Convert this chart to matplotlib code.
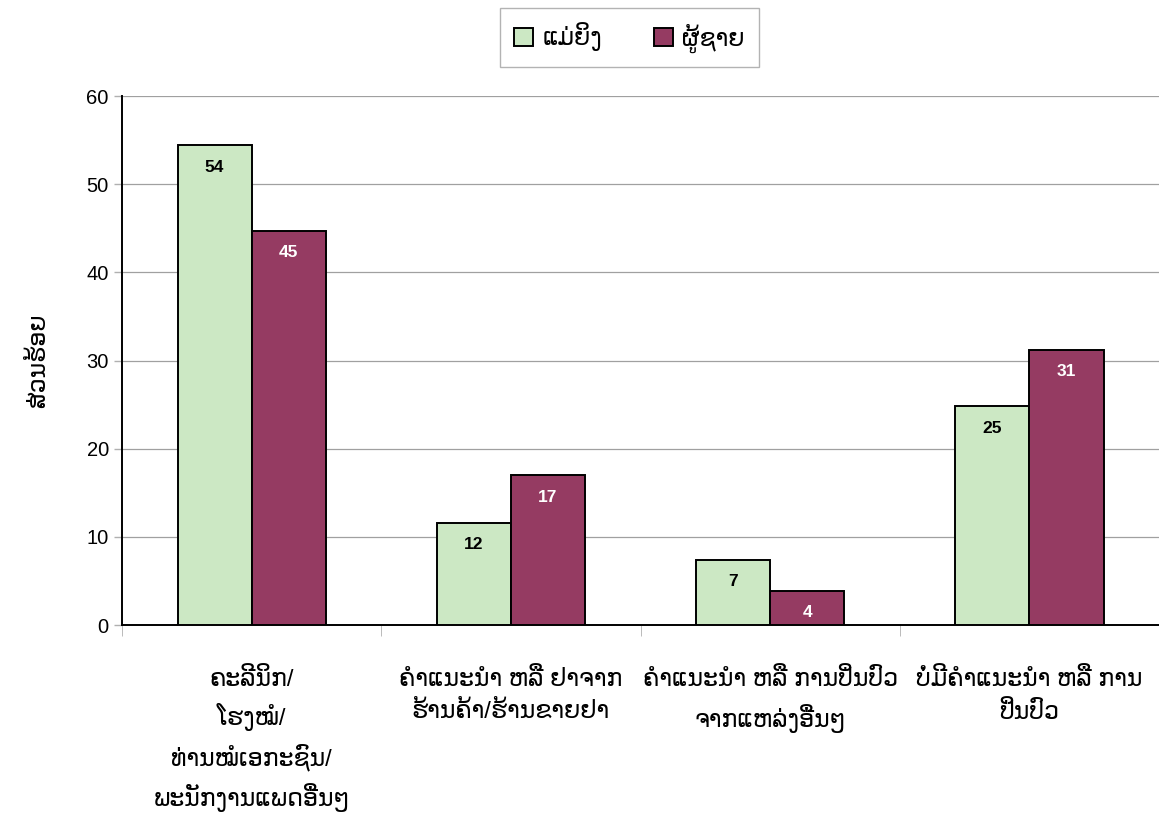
import numpy as np
import matplotlib.pyplot as plt

categories = [
    "ຄະລີນິກ/\nໂຮງໝໍ/\nທ່ານໝໍເອກະຊົນ/\nພະນັກງານແພດອື່ນໆ",
    "ຄຳແນະນຳ ຫລື ຢາຈາກ\nຮ້ານຄ້າ/ຮ້ານຂາຍຢາ",
    "ຄຳແນະນຳ ຫລື ການປິ່ນປົວ\nຈາກແຫລ່ງອື່ນໆ",
    "ບໍ່ມີຄຳແນະນຳ ຫລື ການ\nປິ່ນປົວ",
]
women = [54.4, 11.6, 7.4, 24.8]
men = [44.7, 17.0, 3.9, 31.2]
series_names = ["ແມ່ຍິງ", "ຜູ້ຊາຍ"]
y_label = "ສ່ວນຮ້ອຍ"

plt.rcParams['font.family'] = ['Liberation Sans', 'DejaVu Sans']

fig = plt.figure(figsize=(11.59, 8.21), dpi=100)
ax = fig.add_axes([0.1053, 0.2387, 0.8947, 0.6443])

x = np.arange(len(categories))
w = 0.286
b1 = ax.bar(x - w / 2, women, w, color='#cce8c4', edgecolor='black', linewidth=1.4, label=series_names[0], zorder=3)
b2 = ax.bar(x + w / 2, men, w, color='#953b62', edgecolor='black', linewidth=1.4, label=series_names[1], zorder=3)

for bars, vals, col in [(b1, women, 'black'), (b2, men, 'white')]:
    for rect, v in zip(bars, vals):
        ax.annotate(f"{round(v):d}", (rect.get_x() + rect.get_width() / 2, v),
                    xytext=(0, -22), textcoords='offset pixels',
                    ha='center', va='center', fontsize=12.5, fontweight='bold', color=col, zorder=4)

ax.set_xlim(-0.5, 3.5)
ax.set_ylim(0, 60)
ax.set_yticks(range(0, 61, 10))
ax.yaxis.grid(True, color='#a0a0a0', linewidth=0.9, zorder=0)
ax.spines['top'].set_visible(False)
ax.spines['right'].set_visible(False)
ax.spines['left'].set_linewidth(1.4)
ax.spines['bottom'].set_linewidth(1.4)

ax.set_xticks(x)
ax.set_xticklabels(categories, fontsize=17, linespacing=1.55)
ax.set_xticks(np.arange(-0.5, 3.6, 1), minor=True)
ax.tick_params(axis='x', which='major', length=0, pad=31)
ax.tick_params(axis='x', which='minor', length=8, color='#b0b0b0')
ax.tick_params(axis='y', labelsize=14.5, length=6, width=1.0, color='#b0b0b0', direction='out')

ax.set_ylabel(y_label, fontsize=17, labelpad=26)

fig.legend(loc='upper center', bbox_to_anchor=(0.543, 0.990), borderaxespad=0, ncol=2, fontsize=17,
           frameon=True, fancybox=False, edgecolor='#a0a0a0', handlelength=0.8,
           handleheight=0.8, borderpad=0.6, columnspacing=2.2, handletextpad=0.4)

fig.savefig('out.png', dpi=100)
